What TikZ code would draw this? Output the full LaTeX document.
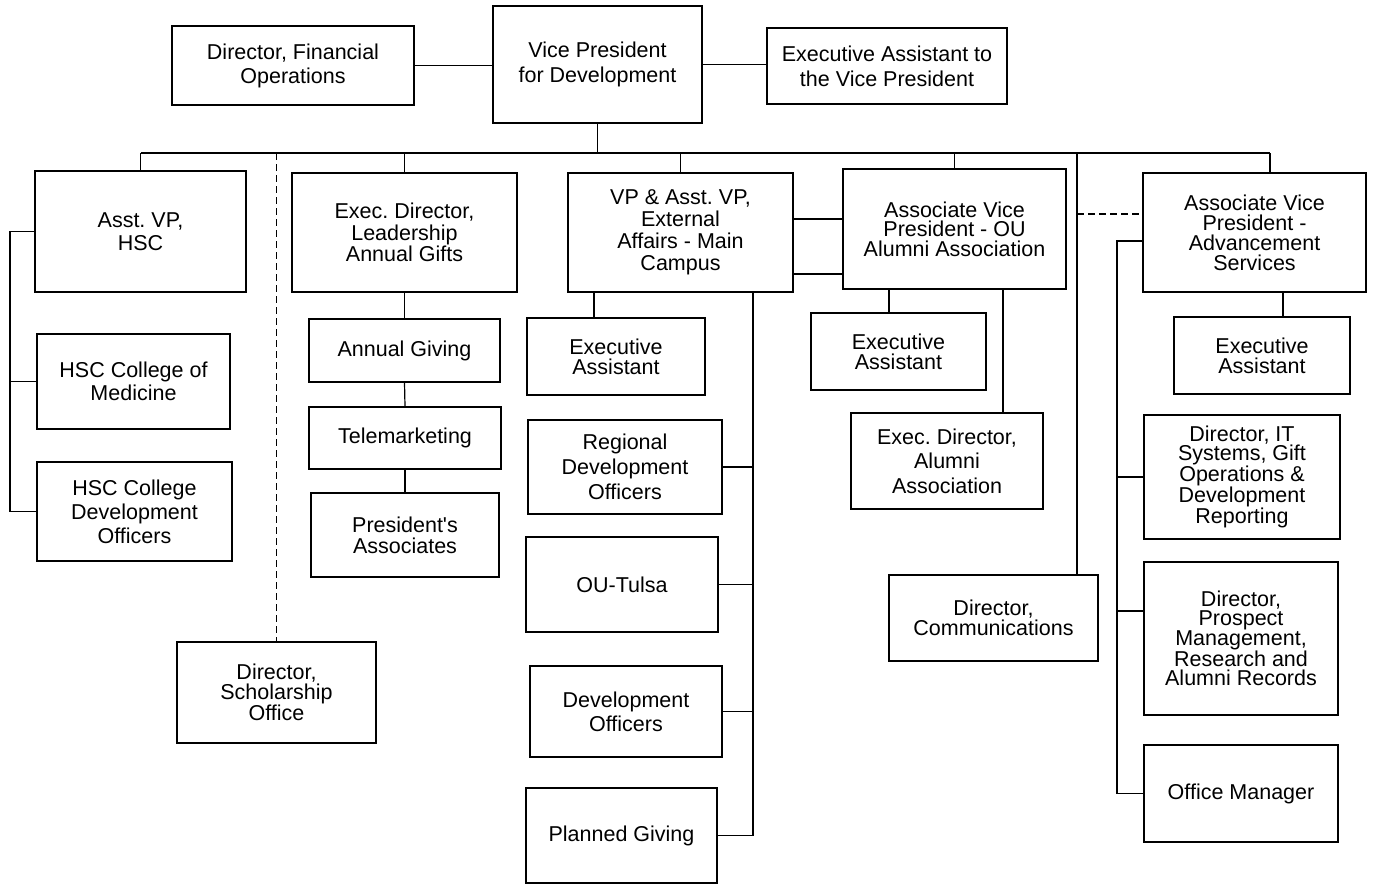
\documentclass[tikz,border=0pt]{standalone}
\usepackage{fontspec}
\setmainfont{Liberation Sans}
\frenchspacing
\tikzset{orgbox/.style={draw, line width=1.2pt, align=center, inner sep=0pt, font=\fontsize{21.5}{24}\selectfont},
%line spacing of the box text
linesp/.style={font=\fontsize{21.5}{#1}\selectfont},
boxsize/.style 2 args={minimum width=#1pt, minimum height=#2pt},
link/.style={line width=1.2pt},
dashlink/.style={line width=1.3pt, dash pattern=on 7pt off 4pt}}

\begin{document}
\begin{tikzpicture}[x=1pt, y=-1pt]
  \useasboundingbox (0,0) rectangle (1373,884);

  \coordinate (bus) at (0,153);
  \coordinate (hscspine) at (10,0);
  \coordinate (extdrop) at (594,0);
  \coordinate (extspine) at (753,0);
  \coordinate (alumdrop) at (889,0);
  \coordinate (dirdrop) at (1003,0);
  \coordinate (commsdrop) at (1077,0);
  \coordinate (advspine) at (1117,0);
  \coordinate (advdrop) at (1270,0);
  \coordinate (eadrop) at (1283,0);

  % top row
  \node[orgbox, boxsize={242}{79}] (finops) at (293,65.5) {Director, Financial\\Operations};
  \node[orgbox, linesp=25, boxsize={209}{117}] (vp) at (597.5,64.5) {Vice President\\for Development};
  \node[orgbox, linesp=25, boxsize={240}{76}] (execvp) at (887,66) {Executive Assistant to\\the Vice President};

  % second row
  \node[orgbox, linesp=23, boxsize={211}{121}] (hscvp) at (140.5,231.5) {Asst. VP,\\HSC};
  \node[orgbox, linesp=21.5, boxsize={225}{119}] (lag) at (404.5,232.5) {Exec. Director,\\Leadership\\Annual Gifts};
  \node[orgbox, linesp=22, boxsize={225}{119}] (extaff) at (680.5,232.5) {VP \& Asst. VP,\\External\\Affairs - Main\\Campus};
  \node[orgbox, linesp=19.5, boxsize={223}{120}] (alumni) at (954.5,229) {Associate Vice\\President - OU\\Alumni Association};
  \node[orgbox, linesp=20, boxsize={223}{119}] (advserv) at (1254.5,232.5) {Associate Vice\\President -\\Advancement\\Services};

  % HSC
  \node[orgbox, linesp=23, boxsize={193}{95}] (medicine) at (133.5,381.5) {HSC College of\\Medicine};
  \node[orgbox, boxsize={195}{99}] (hscdev) at (134.5,511.5) {HSC College\\Development\\Officers};
  \node[orgbox, linesp=20, boxsize={199}{101}] (scholar) at (276.5,692.5) {Director,\\Scholarship\\Office};

  % annual gifts
  \node[orgbox, boxsize={191}{63}] (annual) at (404.5,350.5) {Annual Giving};
  \node[orgbox, boxsize={192}{62}] (telemkt) at (405,438) {Telemarketing};
  \node[orgbox, linesp=21, boxsize={188}{84}] (presassoc) at (405,535) {President\textquotesingle s\\Associates};

  % external affairs
  \node[orgbox, linesp=20, boxsize={178}{77}] (extea) at (616,356.5) {Executive\\Assistant};
  \node[orgbox, linesp=25, boxsize={194}{94}] (regional) at (625,467) {Regional\\Development\\Officers};
  \node[orgbox, boxsize={192}{95}] (tulsa) at (622,584.5) {OU-Tulsa};
  \node[orgbox, boxsize={192}{91}] (devoff) at (626,711.5) {Development\\Officers};
  \node[orgbox, boxsize={191}{95}] (planned) at (621.5,835.5) {Planned Giving};

  % alumni association
  \node[orgbox, linesp=20, boxsize={175}{77}] (alumea) at (898.5,351.5) {Executive\\Assistant};
  \node[orgbox, linesp=24.5, boxsize={192}{96}] (alumdir) at (947,461) {Exec. Director,\\Alumni\\Association};
  \node[orgbox, linesp=20, boxsize={209}{86}] (comms) at (993.5,618) {Director,\\Communications};

  % advancement services
  \node[orgbox, linesp=20, boxsize={176}{77}] (advea) at (1262,355.5) {Executive\\Assistant};
  \node[orgbox, linesp=19.5, boxsize={196}{124}] (itsys) at (1242,477) {Director, IT\\Systems, Gift\\Operations \&\\Development\\Reporting};
  \node[orgbox, linesp=19.5, boxsize={194}{153}] (prospect) at (1241,638.5) {Director,\\Prospect\\Management,\\Research and\\Alumni Records};
  \node[orgbox, boxsize={194}{97}] (officemgr) at (1241,793.5) {Office Manager};

  \draw[link] (finops.east) -- (finops.east -| vp.west);
  \draw[link] (vp.east) -- (vp.east -| execvp.west);
  \draw[link] (vp.south) -- (vp.south |- bus);
  \draw[link] (hscvp.north |- bus) -- (advdrop |- bus);
  \foreach \n in {hscvp, lag, extaff, alumni}
    \draw[link] (\n.north |- bus) -- (\n.north);
  \draw[link] (advdrop |- bus) -- (advdrop |- advserv.north);
  \draw[dashlink] (scholar.north |- bus) -- (scholar.north);
  \draw[link] (commsdrop |- bus) -- (commsdrop |- comms.north);
  \coordinate (advdash) at ([yshift=18.5pt]advserv.west);
  \draw[dashlink] (commsdrop |- advdash) -- (advdash);

  \draw[link] (hscvp.west) -| (hscspine |- hscdev.west) -- (hscdev.west);
  \draw[link] (medicine.west) -- (medicine.west -| hscspine);

  \draw[link] (lag.south) -- (annual.north);
  \draw[link] (annual.south) -- (telemkt.north);
  \draw[link] (telemkt.south) -- (presassoc.north);

  \draw[link] (extdrop |- extaff.south) -- (extdrop |- extea.north);
  \draw[link] (extspine |- extaff.south) |- (planned.east);
  \foreach \n in {regional, tulsa, devoff}
    \draw[link] (\n.east) -- (\n.east -| extspine);
  \coordinate (xa1) at ([yshift=13.5pt]extaff.east);
  \coordinate (xa2) at ([yshift=-41.5pt]extaff.east);
  \foreach \c in {xa1, xa2}
    \draw[link] (\c) -- (\c -| alumni.west);

  \draw[link] (alumdrop |- alumni.south) -- (alumdrop |- alumea.north);
  \draw[link] (dirdrop |- alumni.south) -- (dirdrop |- alumdir.north);

  \draw[link] (eadrop |- advserv.south) -- (eadrop |- advea.north);
  \coordinate (advbr) at ([yshift=-8.5pt]advserv.west);
  \draw[link] (advbr) -| (advspine |- officemgr.west) -- (officemgr.west);
  \coordinate (prbr) at ([yshift=27.5pt]prospect.west);
  \draw[link] (itsys.west) -- (itsys.west -| advspine);
  \draw[link] (prbr) -- (prbr -| advspine);

\end{tikzpicture}
\end{document}
